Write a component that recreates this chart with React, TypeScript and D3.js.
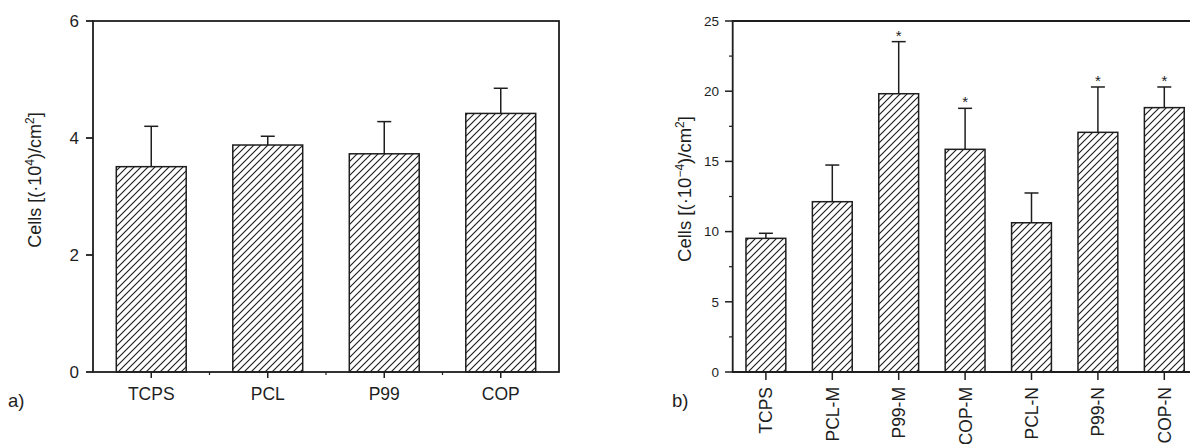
import React from 'react';
import { scaleBand, scaleLinear, range } from 'd3';

// panel a
const catsA = ['TCPS', 'PCL', 'P99', 'COP'];
const meanA = [3.51, 3.88, 3.73, 4.42];
const errTopA = [4.2, 4.03, 4.28, 4.85];
const ticksA = [0, 2, 4, 6];

// panel b
const catsB = ['TCPS', 'PCL-M', 'P99-M', 'COP-M', 'PCL-N', 'P99-N', 'COP-N'];
const meanB = [9.52, 12.13, 19.82, 15.86, 10.63, 17.07, 18.83];
const errTopB = [9.88, 14.74, 23.53, 18.78, 12.75, 20.3, 20.3];
const starB = [false, false, true, true, false, true, true];
const ticksB = [0, 5, 10, 15, 20, 25];

const ink = '#1e1e1e';
const font = '"Liberation Sans", Arial, sans-serif';

const App = () => {
  // panel a scales
  const xA = scaleBand<string>().domain(catsA).range([93, 559]).paddingInner(0.4).paddingOuter(0.2);
  const yA = scaleLinear().domain([0, 6]).range([372, 21]);
  const stepA = xA.step();

  // panel b scales
  const xB = scaleBand<string>().domain(catsB).range([732.7, 1197.5]).paddingInner(0.4).paddingOuter(0.2);
  const yB = scaleLinear().domain([0, 25]).range([372, 21]);
  const minorB = range(0, 25.01, 2.5).filter((v) => v % 5 !== 0);

  return (
    <svg width={1190} height={444} style={{ position: 'absolute', left: 0, top: 0 }} fontFamily={font}>
      <defs>
        <pattern id="hatch" patternUnits="userSpaceOnUse" width={7} height={7}>
          <path d="M-1,8 L8,-1 M-2,2 L2,-2 M5,9 L9,5" stroke={ink} strokeWidth={1.15} />
        </pattern>
      </defs>
      <rect width={1190} height={444} fill="#fff" />

      {/* ---------- panel a ---------- */}
      <g>
        {catsA.map((c, i) => {
          const cx = xA(c)! + xA.bandwidth() / 2;
          return (
            <g key={c}>
              <line x1={cx} x2={cx} y1={yA(meanA[i])} y2={yA(errTopA[i])} stroke={ink} strokeWidth={1.5} />
              <line x1={cx - 7} x2={cx + 7} y1={yA(errTopA[i])} y2={yA(errTopA[i])} stroke={ink} strokeWidth={1.5} />
              <rect x={xA(c)} y={yA(meanA[i])} width={xA.bandwidth()} height={yA(0) - yA(meanA[i])}
                fill="url(#hatch)" stroke={ink} strokeWidth={1.5} />
              <line x1={cx} x2={cx} y1={372} y2={378} stroke={ink} strokeWidth={1.5} />
              <text x={cx} y={400} textAnchor="middle" fontSize={17.5} fill={ink}>{c}</text>
            </g>
          );
        })}
        {range(1, catsA.length).map((k) => (
          <line key={k} x1={93 + k * stepA} x2={93 + k * stepA} y1={372} y2={375} stroke={ink} strokeWidth={1.2} />
        ))}
        <rect x={93} y={21} width={466} height={351} fill="none" stroke={ink} strokeWidth={1.8} />
        {ticksA.map((t) => (
          <g key={t}>
            <line x1={86} x2={93} y1={yA(t)} y2={yA(t)} stroke={ink} strokeWidth={1.8} />
            <text x={79} y={yA(t)} dy="0.36em" textAnchor="end" fontSize={17} fill={ink}>{t}</text>
          </g>
        ))}
        <text transform="translate(41,180) rotate(-90)" textAnchor="middle" fontSize={18} fill={ink}>
          Cells [(·10<tspan dy={-7} fontSize={12}>4</tspan><tspan dy={7}>)/cm</tspan>
          <tspan dy={-7} fontSize={12}>2</tspan><tspan dy={7}>]</tspan>
        </text>
        <text x={8} y={407} fontSize={18.5} fill={ink}>a)</text>
      </g>

      {/* ---------- panel b ---------- */}
      <g>
        {catsB.map((c, i) => {
          const cx = xB(c)! + xB.bandwidth() / 2;
          return (
            <g key={c}>
              <line x1={cx} x2={cx} y1={yB(meanB[i])} y2={yB(errTopB[i])} stroke={ink} strokeWidth={1.5} />
              <line x1={cx - 7} x2={cx + 7} y1={yB(errTopB[i])} y2={yB(errTopB[i])} stroke={ink} strokeWidth={1.5} />
              <rect x={xB(c)} y={yB(meanB[i])} width={xB.bandwidth()} height={yB(0) - yB(meanB[i])}
                fill="url(#hatch)" stroke={ink} strokeWidth={1.5} />
              {starB[i] && (
                <text x={cx} y={yB(errTopB[i]) - 1} textAnchor="middle" fontSize={15} fill={ink}>*</text>
              )}
              <line x1={cx} x2={cx} y1={372} y2={380} stroke={ink} strokeWidth={1.5} />
              <text transform={`translate(${cx + 6.5},387) rotate(-90)`} textAnchor="end" fontSize={17.5} fill={ink}>{c}</text>
            </g>
          );
        })}
        <path d="M1190,21 H732.7 V372 H1190" fill="none" stroke={ink} strokeWidth={1.8} />
        {ticksB.map((t) => (
          <g key={t}>
            <line x1={725} x2={733} y1={yB(t)} y2={yB(t)} stroke={ink} strokeWidth={1.5} />
            <text x={719} y={yB(t)} dy="0.36em" textAnchor="end" fontSize={13.5} fill={ink}>{t}</text>
          </g>
        ))}
        {minorB.map((t) => (
          <line key={t} x1={729} x2={733} y1={yB(t)} y2={yB(t)} stroke={ink} strokeWidth={1.2} />
        ))}
        <text transform="translate(691,189) rotate(-90)" textAnchor="middle" fontSize={18.5} fill={ink}>
          Cells [(·10<tspan dy={-7} fontSize={12}>−4</tspan><tspan dy={7}>)/cm</tspan>
          <tspan dy={-7} fontSize={12}>2</tspan><tspan dy={7}>]</tspan>
        </text>
        <text x={672} y={407} fontSize={18.5} fill={ink}>b)</text>
      </g>
    </svg>
  );
};

export default App;
